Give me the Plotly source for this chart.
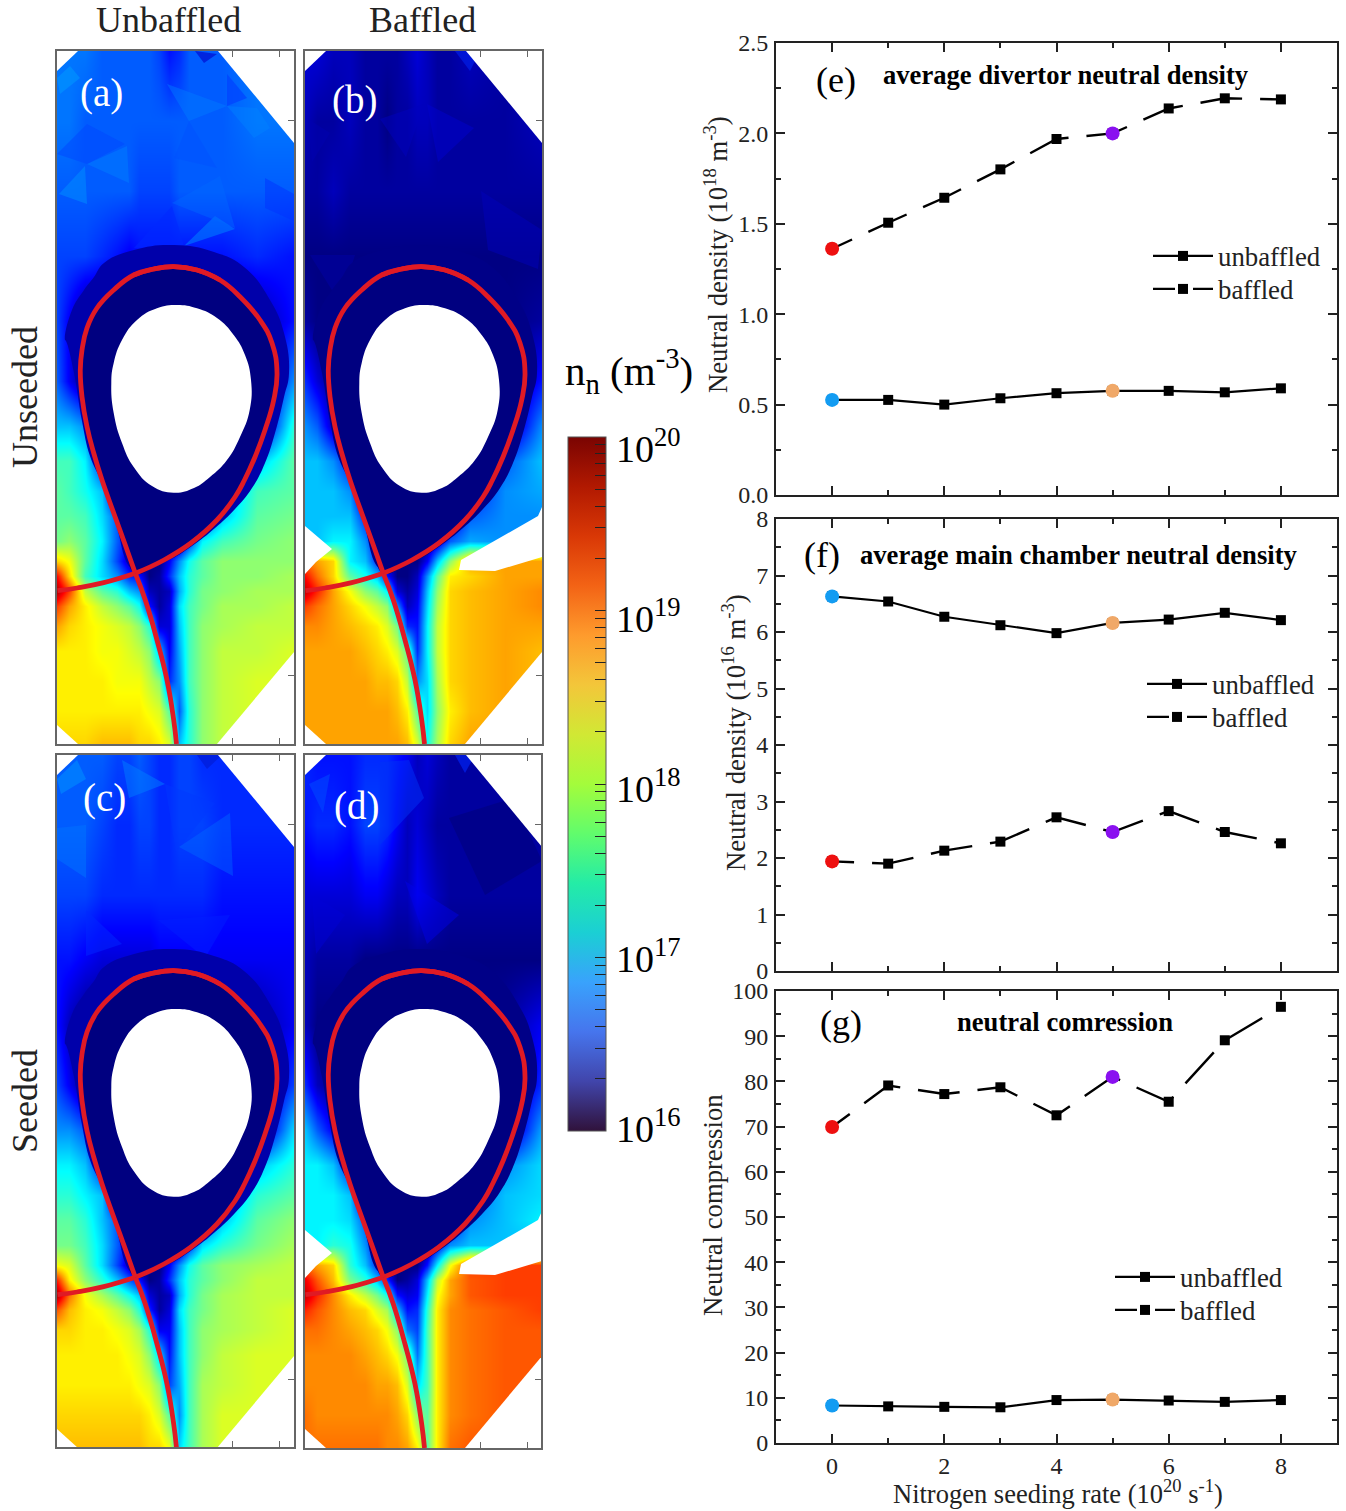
import math
import plotly.graph_objects as go

W, H = 1346, 1511
FONT = "Liberation Serif"

# ---------- line chart data ----------
seeding_rate = [0, 1, 2, 3, 4, 5, 6, 7, 8]
div_unbaffled = [0.526, 0.526, 0.50, 0.535, 0.563, 0.576, 0.576, 0.568, 0.59]
div_baffled = [1.362, 1.506, 1.644, 1.801, 1.969, 2.0, 2.138, 2.194, 2.188]
main_unbaffled = [6.63, 6.54, 6.27, 6.12, 5.98, 6.16, 6.22, 6.34, 6.21]
main_baffled = [1.94, 1.90, 2.13, 2.29, 2.72, 2.46, 2.83, 2.46, 2.26]
comp_unbaffled = [8.3, 8.1, 8.0, 7.9, 9.5, 9.6, 9.4, 9.1, 9.5]
comp_baffled = [69.9, 79.1, 77.2, 78.7, 72.5, 81.0, 75.5, 89.1, 96.5]

# ---------- map data: log10(n) x 10 on a non-uniform grid ----------
grid_x = [0, 12, 28, 45, 60, 72, 82, 92, 102, 112, 122, 132, 145, 165, 200, 237]
grid_y = [0, 70, 140, 205, 270, 330, 375, 410, 440, 465, 490, 510, 525, 540, 555, 575, 600, 630, 660, 693]

map_a = [
 [169,169,169,168,168,168,168,168,167,165,166,168,168,168,169,169],
 [169,169,168,168,168,168,168,168,168,168,168,168,168,168,169,169],
 [168,168,168,168,168,168,167,167,167,167,168,168,168,168,168,168],
 [167,167,167,166,165,164,165,165,165,165,165,165,165,165,166,165],
 [167,164,160,160,160,160,160,160,160,160,160,160,160,160,161,165],
 [168,164,160,160,160,160,160,160,160,160,160,160,160,160,160,170],
 [172,172,170,160,160,160,160,160,160,160,160,160,160,160,160,176],
 [177,177,174,165,160,160,160,160,160,160,160,160,160,165,172,178],
 [178,177,175,172,160,160,160,160,160,160,160,160,160,170,177,178],
 [178,178,177,173,168,160,160,160,160,160,160,160,165,172,178,179],
 [179,180,178,174,168,164,160,160,160,160,160,166,174,177,179,180],
 [186,184,178,173,167,162,160,160,160,164,170,175,178,180,180,180],
 [194,186,177,173,170,166,165,160,161,166,172,176,178,180,180,181],
 [198,192,182,178,176,172,170,162,161,162,171,176,179,180,181,181],
 [192,188,185,182,180,178,175,165,161,163,173,177,179,181,181,182],
 [188,186,185,184,183,182,180,176,163,163,172,177,180,181,182,182],
 [185,185,185,184,184,183,182,180,172,164,171,177,180,182,182,183],
 [185,185,185,185,184,184,184,182,180,166,170,177,180,182,183,183],
 [185,185,185,185,185,185,185,184,183,178,168,176,180,182,183,183],
 [186,186,186,187,187,187,186,186,185,183,172,176,180,182,183,183],
]
map_b = [
 [163,163,162,162,161,161,161,161,162,163,162,161,161,162,161,161],
 [162,161,161,162,161,161,160,161,161,162,162,161,161,161,161,162],
 [161,161,162,161,161,161,161,161,161,161,161,161,161,161,161,161],
 [160,160,160,160,160,160,160,160,160,160,160,160,160,160,160,160],
 [161,160,160,160,160,160,160,160,160,160,160,160,160,160,160,161],
 [166,163,160,160,160,160,160,160,160,160,160,160,160,160,160,165],
 [170,168,162,160,160,160,160,160,160,160,160,160,160,160,160,170],
 [172,172,170,165,160,160,160,160,160,160,160,160,160,165,168,172],
 [172,172,172,170,160,160,160,160,160,160,160,160,160,165,170,171],
 [172,172,172,172,166,160,160,160,160,160,160,160,162,168,170,170],
 [172,172,174,174,170,164,160,160,160,160,160,162,168,171,170,170],
 [190,188,186,174,172,166,162,160,160,160,164,172,180,188,188,188],
 [194,190,186,178,175,172,165,160,160,162,170,178,185,186,188,188],
 [197,193,188,184,180,178,174,163,161,163,172,180,186,187,188,189],
 [192,190,188,186,184,182,180,170,162,164,173,181,186,187,188,189],
 [189,189,188,187,186,185,183,179,166,165,174,182,186,187,188,188],
 [188,188,188,188,187,186,185,183,178,166,174,182,186,187,188,187],
 [188,188,188,188,188,187,187,186,182,170,173,181,186,187,188,187],
 [188,188,188,188,188,188,188,187,185,178,173,180,185,187,188,188],
 [188,188,188,188,188,188,188,188,187,183,175,181,186,188,188,188],
]
map_c = [
 [168,168,168,168,167,167,168,167,166,166,167,167,166,166,166,166],
 [168,168,168,167,166,166,167,167,166,166,167,167,167,166,166,166],
 [167,167,167,166,166,166,166,166,166,166,166,166,166,165,165,165],
 [165,165,164,163,163,163,163,163,164,164,164,164,164,164,164,164],
 [165,162,160,160,160,160,160,160,160,160,160,160,160,160,161,164],
 [167,164,160,160,160,160,160,160,160,160,160,160,160,160,160,167],
 [170,170,168,160,160,160,160,160,160,160,160,160,160,160,160,173],
 [174,174,172,165,160,160,160,160,160,160,160,160,160,165,172,176],
 [176,176,174,172,160,160,160,160,160,160,160,160,160,170,176,178],
 [178,178,176,172,168,160,160,160,160,160,160,160,165,172,178,180],
 [179,179,177,173,168,164,160,160,160,160,160,166,173,176,179,181],
 [184,183,178,173,167,162,160,160,160,164,170,175,178,180,181,182],
 [193,185,180,176,172,168,165,160,161,166,172,176,178,180,182,182],
 [198,190,184,181,178,175,172,163,161,162,171,176,179,181,182,182],
 [191,187,185,184,182,180,176,166,161,163,173,177,179,181,182,183],
 [186,186,185,185,184,183,181,176,164,164,172,177,180,181,182,183],
 [185,185,185,185,185,184,183,180,173,165,172,177,180,182,183,183],
 [185,185,185,185,185,185,184,183,180,167,171,177,181,182,183,183],
 [186,186,186,186,186,186,186,185,183,178,170,177,181,183,183,183],
 [187,187,187,187,187,187,187,186,186,184,173,177,181,183,183,183],
]
map_d = [
 [166,165,165,165,166,166,166,165,164,162,163,162,161,161,161,161],
 [165,166,166,165,167,167,166,164,162,163,162,161,161,161,161,161],
 [163,163,163,163,164,164,163,162,162,164,163,162,161,161,161,161],
 [162,161,161,161,160,160,160,160,160,160,160,160,160,160,160,160],
 [162,160,160,160,160,160,160,160,160,160,160,160,160,160,161,164],
 [166,162,160,160,160,160,160,160,160,160,160,160,160,160,160,166],
 [172,168,164,160,160,160,160,160,160,160,160,160,160,160,160,171],
 [174,174,172,165,160,160,160,160,160,160,160,160,160,165,170,173],
 [174,174,174,172,160,160,160,160,160,160,160,160,160,168,172,173],
 [174,174,174,173,168,160,160,160,160,160,160,160,163,170,172,174],
 [174,174,176,175,170,164,160,160,160,160,160,164,170,172,172,172],
 [190,188,186,176,172,166,162,160,160,160,165,174,184,192,192,192],
 [195,191,187,179,176,172,166,160,161,163,172,182,188,191,192,192],
 [197,193,189,185,182,179,175,165,163,164,174,184,188,191,192,192],
 [193,191,189,187,186,183,181,172,165,166,176,185,189,190,191,192],
 [190,190,189,188,187,186,184,180,169,167,177,185,189,190,191,191],
 [189,189,189,189,188,187,186,184,179,169,177,185,189,190,191,191],
 [189,189,189,189,189,188,188,187,183,173,177,185,189,190,191,191],
 [190,189,189,189,189,189,189,188,186,180,178,185,189,190,191,191],
 [190,190,190,190,190,190,189,189,188,185,178,185,190,191,191,191],
]

# mesh facets visible on the maps: (x list, y list, colour)
facets_a = [
    ([2,28,30],[143,115,153],"rgba(0,140,255,.55)"),
    ([30,70,72],[113,95,132],"rgba(0,125,255,.5)"),
    ([0,30,30],[103,73,113],"rgba(0,70,255,.5)"),
    ([30,68,30],[73,93,113],"rgba(0,70,255,.5)"),
    ([132,160,117],[70,117,107],"rgba(0,80,255,.45)"),
    ([110,170,132],[33,55,70],"rgba(0,125,255,.45)"),
    ([170,200,213,197],[55,57,77,87],"rgba(0,130,255,.45)"),
    ([170,190,170],[23,47,55],"rgba(0,65,255,.7)"),
    ([127,158,178],[195,165,178],"rgba(0,130,255,.55)"),
    ([115,127,77],[155,195,197],"rgba(0,40,255,.55)"),
    ([115,163,178],[152,125,177],"rgba(0,105,255,.45)"),
    ([0,13,23,3],[27,15,27,43],"rgba(0,150,255,.6)"),
    ([138,160,147],[0,3,12],"rgba(0,30,220,.9)"),
    ([208,237,237,208],[127,143,170,157],"rgba(0,50,255,.5)"),
]
facets_b = [
    ([122,169,133],[53,77,111],"rgba(0,0,205,.5)"),
    ([75,119,101],[68,53,106],"rgba(0,0,190,.5)"),
    ([3,25,7],[68,82,111],"rgba(0,0,175,.5)"),
    ([176,237,233,183],[140,179,218,199],"rgba(0,0,185,.5)"),
    ([5,50,35],[204,204,252],"rgba(0,0,165,.5)"),
    ([150,175,165],[0,0,20],"rgba(0,30,230,.7)"),
]
facets_c = [
    ([29,65,29],[155,189,201],"rgba(0,40,255,.5)"),
    ([0,29,29,0],[73,70,123,104],"rgba(0,115,255,.5)"),
    ([65,108,72],[5,29,43],"rgba(0,125,255,.5)"),
    ([108,158,119],[29,48,97],"rgba(0,55,255,.45)"),
    ([101,173,148],[165,160,203],"rgba(0,30,255,.5)"),
    ([122,173,176],[92,58,121],"rgba(0,110,255,.4)"),
    ([0,20,29,4],[24,5,24,39],"rgba(0,140,255,.6)"),
    ([140,165,150],[0,0,14],"rgba(0,30,220,.8)"),
]
facets_d = [
    ([4,25,18],[29,19,58],"rgba(0,70,255,.6)"),
    ([75,104,119,75],[7,5,43,90],"rgba(0,50,245,.5)"),
    ([100,122,154],[126,189,160],"rgba(0,0,235,.45)"),
    ([7,40,11],[140,160,199],"rgba(0,0,215,.45)"),
    ([144,208,237,180],[63,43,106,140],"rgba(0,0,120,.5)"),
    ([150,170,160],[0,0,18],"rgba(0,30,230,.8)"),
]

# shared outlines, in the panels' own coordinates
core_x = [120,140,160,176.7,188,194,192.7,183,170,153,137,116.7,95,76.7,65,56.7,54.3,56.7,65,80,100,120]
core_y = [254,257.3,267,284,304,329,359,386,409,426,437,441.7,435,416,392,362,332,312,289,269,257.3,254]
sep_x = [78.3,107,134,160,178,187.5,198,208,216.7,220,215,203,183,163,140,116.7,96.7,76.7,56.7,40,30,25,23.3,25,30,36.7,45,56.7,68.3,78.3]
sep_y = [522.3,509,492,469,446,429,406,379,349,322,292,269,245.7,229,219,215.7,218,224,239,257,277,299,319,345.7,375.7,402,429,462,494,522.3]
leg_in_x = [78.3,46.7,20,0.5]
leg_in_y = [522.3,531.7,537,539.7]
leg_out_x = [78.3,88.3,100,110,116.7,119.5]
leg_out_y = [522.3,549,589,629,669,693]
halo_x = [117,157,187,213,227,232,227,218,208,195,178,158,135,110,78,58,45,33,25,17,9,8,15,27,37,47,77,117]
halo_y = [194,201,216,249,282,322,346,382,412,437,458,477,495,510,520,470,432,405,370,322,290,289,259,239,226,212,199,194]
corners = [
    ([0,21,0],[0,0,20]),
    ([161,237,237],[0,0,92]),
    ([237,237,160],[601,693,693]),
    ([0,21,0],[674,693,693]),
]
notches = [
    ([0,27,11,0],[475,498,511,523]),
    ([237,233,156,154,190,237],[456,465,509,519,520,506]),
]

jet = [[0,"rgb(0,0,131)"],[.11,"rgb(0,0,255)"],[.36,"rgb(0,255,255)"],
       [.61,"rgb(255,255,0)"],[.86,"rgb(255,0,0)"],[1,"rgb(128,0,0)"]]

panels = [
    ("x", "y", "xaxis", "yaxis", map_a, False, (57,294,51,744), "(a)", 101, 93, facets_a, "rgb(0,0,170)"),
    ("x2", "y2", "xaxis2", "yaxis2", map_b, True, (305,542,51,744), "(b)", 354, 100, facets_b, "rgb(0,0,135)"),
    ("x3", "y3", "xaxis3", "yaxis3", map_c, False, (57,294,755,1447), "(c)", 104, 798, facets_c, "rgb(0,0,170)"),
    ("x4", "y4", "xaxis4", "yaxis4", map_d, True, (305,541,755,1448), "(d)", 356, 806, facets_d, "rgb(0,0,135)"),
]

fig = go.Figure()
layout = {}
ann = []

def dom(px0, px1, py0, py1):
    return [px0 / W, px1 / W], [1 - py1 / H, 1 - py0 / H]

def text(s, x, y, size, color="black", angle=0, anchor="center", bold=False):
    ann.append(dict(text=f"<b>{s}</b>" if bold else s, x=x / W, y=1 - y / H, xref="paper", yref="paper",
                    showarrow=False, xanchor=anchor, yanchor="middle", textangle=angle,
                    font=dict(family=FONT, size=size, color=color)))

for xa, ya, xk, yk, z, baffled, box, label, lx, ly, facets, halo_col in panels:
    fig.add_trace(go.Heatmap(x=grid_x, y=grid_y, z=z, xaxis=xa, yaxis=ya, zmin=160, zmax=200,
                             colorscale=jet, zsmooth="best", showscale=False, hoverinfo="skip"))
    def poly(px, py, color, spline=True):
        line = dict(width=0, color=color, shape="spline" if spline else "linear")
        if spline:
            line["smoothing"] = 1.3
        fig.add_trace(go.Scatter(x=px, y=py, xaxis=xa, yaxis=ya, mode="lines", fill="toself",
                                 fillcolor=color, line=line, showlegend=False, hoverinfo="skip"))
    for fx, fy, fc in facets:
        poly(fx + fx[:1], fy + fy[:1], fc, False)
    poly(halo_x, halo_y, halo_col)
    poly(sep_x, sep_y, "rgb(0,0,128)")
    poly(core_x, core_y, "white")
    for cx, cy in corners + (notches if baffled else []):
        poly(cx, cy, "white", False)
    # the separatrix is drawn as two overlapping open arcs so that it stays pointed at the X-point
    for lxs, lys in ((sep_x[:18], sep_y[:18]), (sep_x[13:], sep_y[13:]),
                     (leg_in_x, leg_in_y), (leg_out_x, leg_out_y)):
        fig.add_trace(go.Scatter(x=lxs, y=lys, xaxis=xa, yaxis=ya, mode="lines",
                                 line=dict(color="#E01A24", width=4.8, shape="spline", smoothing=1.3),
                                 showlegend=False, hoverinfo="skip"))
    dx, dy = dom(*box)
    layout[xk] = dict(domain=dx, range=[0, box[1] - box[0]], anchor=ya, showgrid=False, zeroline=False,
                      showticklabels=False, ticks="inside", ticklen=6, tickcolor="#666",
                      tickvals=[175, 222], showline=True, linecolor="#666", linewidth=1.5, mirror="ticks")
    layout[yk] = dict(domain=dy, range=[box[3] - box[2], 0], anchor=xa, showgrid=False, zeroline=False,
                      showticklabels=False, ticks="inside", ticklen=6, tickcolor="#666", side="right",
                      tickvals=[69, 624], showline=True, linecolor="#666", linewidth=1.5, mirror=True)
    text(label, lx, ly, 39, "white")

# ---------- colour bar ----------
bar_decades = [16, 17, 18, 19, 20]
bar_labels = ["10<sup>16</sup>", "10<sup>17</sup>", "10<sup>18</sup>", "10<sup>19</sup>", "10<sup>20</sup>"]
bar_label_y = [1126, 956, 786, 616, 446]
bar_ticks = [d + math.log10(k) for d in bar_decades[:-1] for k in range(1, 10)] + [20]
dx, dy = dom(568, 606, 437, 1131)
fig.add_trace(go.Heatmap(z=[[16], [20]], xaxis="x8", yaxis="y8", colorscale="Turbo", zmin=16, zmax=20,
                         hoverinfo="skip",
                         colorbar=dict(x=568 / W, xanchor="left", y=1 - 437 / H, yanchor="top",
                                       lenmode="pixels", len=694, thicknessmode="pixels", thickness=38,
                                       xpad=0, ypad=0, tickvals=bar_ticks, ticks="inside", ticklen=11,
                                       tickcolor="#222", tickwidth=1, showticklabels=False,
                                       outlinecolor="#555", outlinewidth=1)))
layout["xaxis8"] = dict(domain=dx, visible=False, anchor="y8")
layout["yaxis8"] = dict(domain=dy, visible=False, anchor="x8")
for s, y in zip(bar_labels, bar_label_y):
    text(s, 614, y, 38, anchor="left")
text("n<sub>n</sub> (m<sup>-3</sup>)", 629, 371, 41)

# ---------- line charts ----------
baffled_dash = "22px,18px,42px,18px,42px,18px,42px,18px,42px,18px,42px,18px,42px,18px,42px,18px,42px,18px,42px,18px,42px"
charts = [
    ("x5", "y5", "xaxis5", "yaxis5", div_unbaffled, div_baffled, (43, 495), [0, 2.5],
     [0, .5, 1, 1.5, 2, 2.5], ["0.0", "0.5", "1.0", "1.5", "2.0", "2.5"], .25, ("legend", "legend4"), (1148, 257, 290)),
    ("x6", "y6", "xaxis6", "yaxis6", main_unbaffled, main_baffled, (519, 971), [0, 8],
     [0, 1, 2, 3, 4, 5, 6, 7, 8], ["0", "1", "2", "3", "4", "5", "6", "7", "8"], .5, ("legend2", "legend5"), (1142, 685, 718)),
    ("x7", "y7", "xaxis7", "yaxis7", comp_unbaffled, comp_baffled, (991, 1443), [0, 100],
     list(range(0, 101, 10)), [str(v) for v in range(0, 101, 10)], 5, ("legend3", "legend6"), (1110, 1278, 1311)),
]
for i, (xa, ya, xk, yk, un, ba, (top, bot), rng, tv, tt, dtick_minor, (leg_u, leg_b), (lgx, row_u, row_b)) in enumerate(charts):
    dx, dy = dom(776, 1337, top, bot)
    fig.add_trace(go.Scatter(x=seeding_rate, y=un, xaxis=xa, yaxis=ya, mode="lines+markers", name="unbaffled",
                             line=dict(color="black", width=2.2),
                             marker=dict(symbol="square", size=10, color="black"), legend=leg_u, hoverinfo="skip"))
    fig.add_trace(go.Scatter(x=seeding_rate, y=ba, xaxis=xa, yaxis=ya, mode="lines+markers", name="baffled",
                             line=dict(color="black", width=2.4, dash=baffled_dash),
                             marker=dict(symbol="square", size=10, color="black"), legend=leg_b, hoverinfo="skip"))
    fig.add_trace(go.Scatter(x=[seeding_rate[0], seeding_rate[5]], y=[un[0], un[5]], xaxis=xa, yaxis=ya, mode="markers",
                             marker=dict(size=14, color=["#139CF2", "#F0A868"]), showlegend=False, hoverinfo="skip"))
    fig.add_trace(go.Scatter(x=[seeding_rate[0], seeding_rate[5]], y=[ba[0], ba[5]], xaxis=xa, yaxis=ya, mode="markers",
                             marker=dict(size=14, color=["#EE1010", "#8A10F0"]), showlegend=False, hoverinfo="skip"))
    last = i == 2
    layout[xk] = dict(domain=dx, range=[-1, 9], anchor=ya, showgrid=False, zeroline=False,
                      tickvals=[0, 2, 4, 6, 8], ticks="inside", ticklen=9, tickwidth=1.5, tickcolor="#222",
                      minor=dict(tickvals=[1, 3, 5, 7], ticks="inside", ticklen=5, tickwidth=1.5, tickcolor="#222"),
                      showline=True, linecolor="#222", linewidth=1.8, mirror="ticks",
                      showticklabels=last, tickfont=dict(family=FONT, size=24, color="#222"), ticklabelstandoff=0)
    layout[yk] = dict(domain=dy, range=rng, anchor=xa, showgrid=False, zeroline=False,
                      tickvals=tv, ticktext=tt, ticks="inside", ticklen=9, tickwidth=1.5, tickcolor="#222",
                      minor=dict(tick0=0, dtick=dtick_minor, ticks="inside", ticklen=5, tickwidth=1.5, tickcolor="#222"),
                      showline=True, linecolor="#222", linewidth=1.8, mirror="ticks",
                      tickfont=dict(family=FONT, size=24, color="#222"), ticklabelstandoff=1)
    for leg, row in ((leg_u, row_u), (leg_b, row_b)):
        layout[leg] = dict(x=lgx / W, y=1 - (row - 25) / H, xanchor="left", yanchor="top", bgcolor="rgba(0,0,0,0)",
                           borderwidth=0, itemwidth=60, font=dict(family=FONT, size=26.8, color="#222"),
                           itemclick=False, itemdoubleclick=False)

text("(e)", 836, 80, 36)
text("average divertor neutral density", 1066, 75, 26.6, bold=True)
text("(f)", 822, 555, 36)
text("average main chamber neutral density", 1078, 555, 26.6, bold=True)
text("(g)", 841, 1023, 36)
text("neutral comression", 1065, 1022, 26.6, bold=True)
text("Neutral density (10<sup>18</sup> m<sup>-3</sup>)", 716, 255, 26.7, "#222", -90)
text("Neutral density (10<sup>16</sup> m<sup>-3</sup>)", 734, 732, 26.7, "#222", -90)
text("Neutral compression", 713, 1205, 26.7, "#222", -90)
text("Nitrogen seeding rate (10<sup>20</sup> s<sup>-1</sup>)", 1058, 1492, 26.5, "#222")
text("Unbaffled", 168, 20, 36, "#222")
text("Baffled", 422, 20, 36, "#222")
text("Unseeded", 25, 397, 36, "#222", -90)
text("Seeded", 25, 1101, 36, "#222", -90)

fig.update_layout(width=W, height=H, margin=dict(l=0, r=0, t=0, b=0, autoexpand=False), paper_bgcolor="white",
                  plot_bgcolor="white", annotations=ann, showlegend=True, **layout)
fig.write_html("out.html", config={"displayModeBar": False},
               post_script="document.body.style.margin='0';document.body.style.overflow='hidden';")
